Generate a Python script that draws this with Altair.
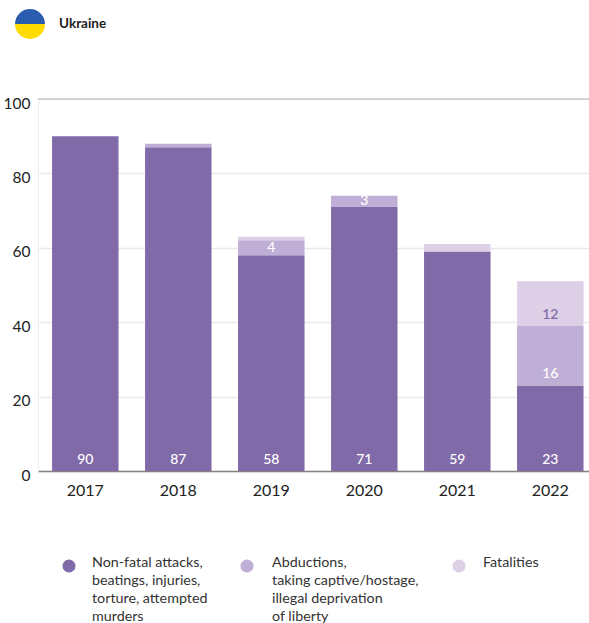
import altair as alt
import pandas as pd

years = ["2017", "2018", "2019", "2020", "2021", "2022"]
non_fatal = [90, 87, 58, 71, 59, 23]
abductions = [0, 1, 4, 3, 0, 16]
fatalities = [0, 0, 1, 0, 2, 12]

series_names = ["Non-fatal attacks", "Abductions", "Fatalities"]
series_colors = ["#816AA8", "#BFAED5", "#DDCFE6"]

legend_labels = [
    "Non-fatal attacks,\nbeatings, injuries,\ntorture, attempted\nmurders",
    "Abductions,\ntaking captive/hostage,\nillegal deprivation\nof liberty",
    "Fatalities",
]

FONT = "Lato"
PLOT_W, PLOT_H = 551, 372

rows = []
for i, year in enumerate(years):
    base = 0
    for name, values in zip(series_names, (non_fatal, abductions, fatalities)):
        v = values[i]
        rows.append({"year": year, "series": name, "order": series_names.index(name),
                     "value": v, "y0": base, "y1": base + v, "mid": base + v / 2})
        base += v
bars = pd.DataFrame(rows)

x_scale = alt.Scale(domain=years, paddingInner=0.285, paddingOuter=0.105, align=0.72)
y_scale = alt.Scale(domain=[0, 100], nice=False)
x = alt.X("year:N", scale=x_scale, title=None,
          axis=alt.Axis(labelAngle=0, labelFontSize=16, labelFont=FONT, labelColor="#222222",
                        labelPadding=11, ticks=False, domainColor="#8A8080", domainWidth=1.5))
color = alt.Color("series:N", scale=alt.Scale(domain=series_names, range=series_colors), legend=None)

stack = alt.Chart(bars).mark_bar().encode(
    x=x,
    y=alt.Y("y0:Q", scale=y_scale, title=None,
            axis=alt.Axis(values=[0, 20, 40, 60, 80, 100], labelFontSize=15.5, labelFont=FONT,
                          labelColor="#222222", labelPadding=8, labelOffset=4, ticks=False,
                          gridColor="#E9E9E9", gridWidth=1.5, domainColor="#EEEEEE", domainWidth=1)),
    y2="y1:Q",
    color=color,
)

top_line = alt.Chart(pd.DataFrame({"v": [100]})).mark_rule(color="#C9C9C9", strokeWidth=1.5).encode(
    y=alt.Y("v:Q", scale=y_scale)
)

label_base = alt.Chart(bars)


def bar_labels(keep, y_field, dy):
    return (
        label_base.transform_filter(keep)
        .mark_text(font=FONT, fontSize=14, fontWeight=500, dy=dy, baseline="middle")
        .encode(
            x=alt.X("year:N", scale=x_scale),
            y=alt.Y(f"{y_field}:Q", scale=y_scale),
            text="value:Q",
            color=alt.condition(alt.datum.series == "Fatalities", alt.value("#816AA8"), alt.value("#FFFFFF")),
        )
    )


# Tall segments carry their number near the bottom, thin ones in the middle.
low_labels = bar_labels("datum.value >= 12", "y0", -11)
thin_labels = bar_labels("datum.value >= 3 && datum.value < 12", "mid", 0)

# Flag badge and country name above the plot.
flag_blue = alt.Chart(pd.DataFrame({"k": [0]})).mark_arc(
    theta=4.7124, theta2=7.8540, outerRadius=15, color="#2A5DB0"
).encode(x=alt.value(-8), y=alt.value(-75))
flag_yellow = alt.Chart(pd.DataFrame({"k": [0]})).mark_arc(
    theta=1.5708, theta2=4.7124, outerRadius=15, color="#FFDB00"
).encode(x=alt.value(-8), y=alt.value(-75))
country = alt.Chart(pd.DataFrame({"t": ["Ukraine"]})).mark_text(
    font=FONT, fontSize=13.5, fontWeight="bold", align="left", baseline="middle", color="#222222"
).encode(x=alt.value(21), y=alt.value(-75), text="t:N")

# Hand-placed legend under the axis.
legend_df = pd.DataFrame({
    "label": legend_labels,
    "series": series_names,
    "dot_x": [31, 209, 421],
    "text_x": [54, 234, 445],
})
legend_dots = alt.Chart(legend_df).mark_point(filled=True, size=170, opacity=1).encode(
    x=alt.X("dot_x:Q", scale=None),
    y=alt.value(467),
    color=color,
)
legend_text = alt.Chart(legend_df).mark_text(
    font=FONT, fontSize=14.3, align="left", baseline="top", lineBreak="\n", lineHeight=18, color="#333333"
).encode(
    x=alt.X("text_x:Q", scale=None),
    y=alt.value(457),
    text="label:N",
)

chart = (
    alt.layer(stack, top_line, low_labels, thin_labels, flag_blue, flag_yellow, country, legend_dots, legend_text)
    .properties(
        width=PLOT_W,
        height=PLOT_H,
        padding={"left": 38, "top": 99, "right": 0, "bottom": 152},
        autosize=alt.AutoSizeParams(type="none"),
        background="#FFFFFF",
    )
    .configure_view(stroke=None)
)

chart.save("out.html", embed_options={"renderer": "svg", "actions": False})
